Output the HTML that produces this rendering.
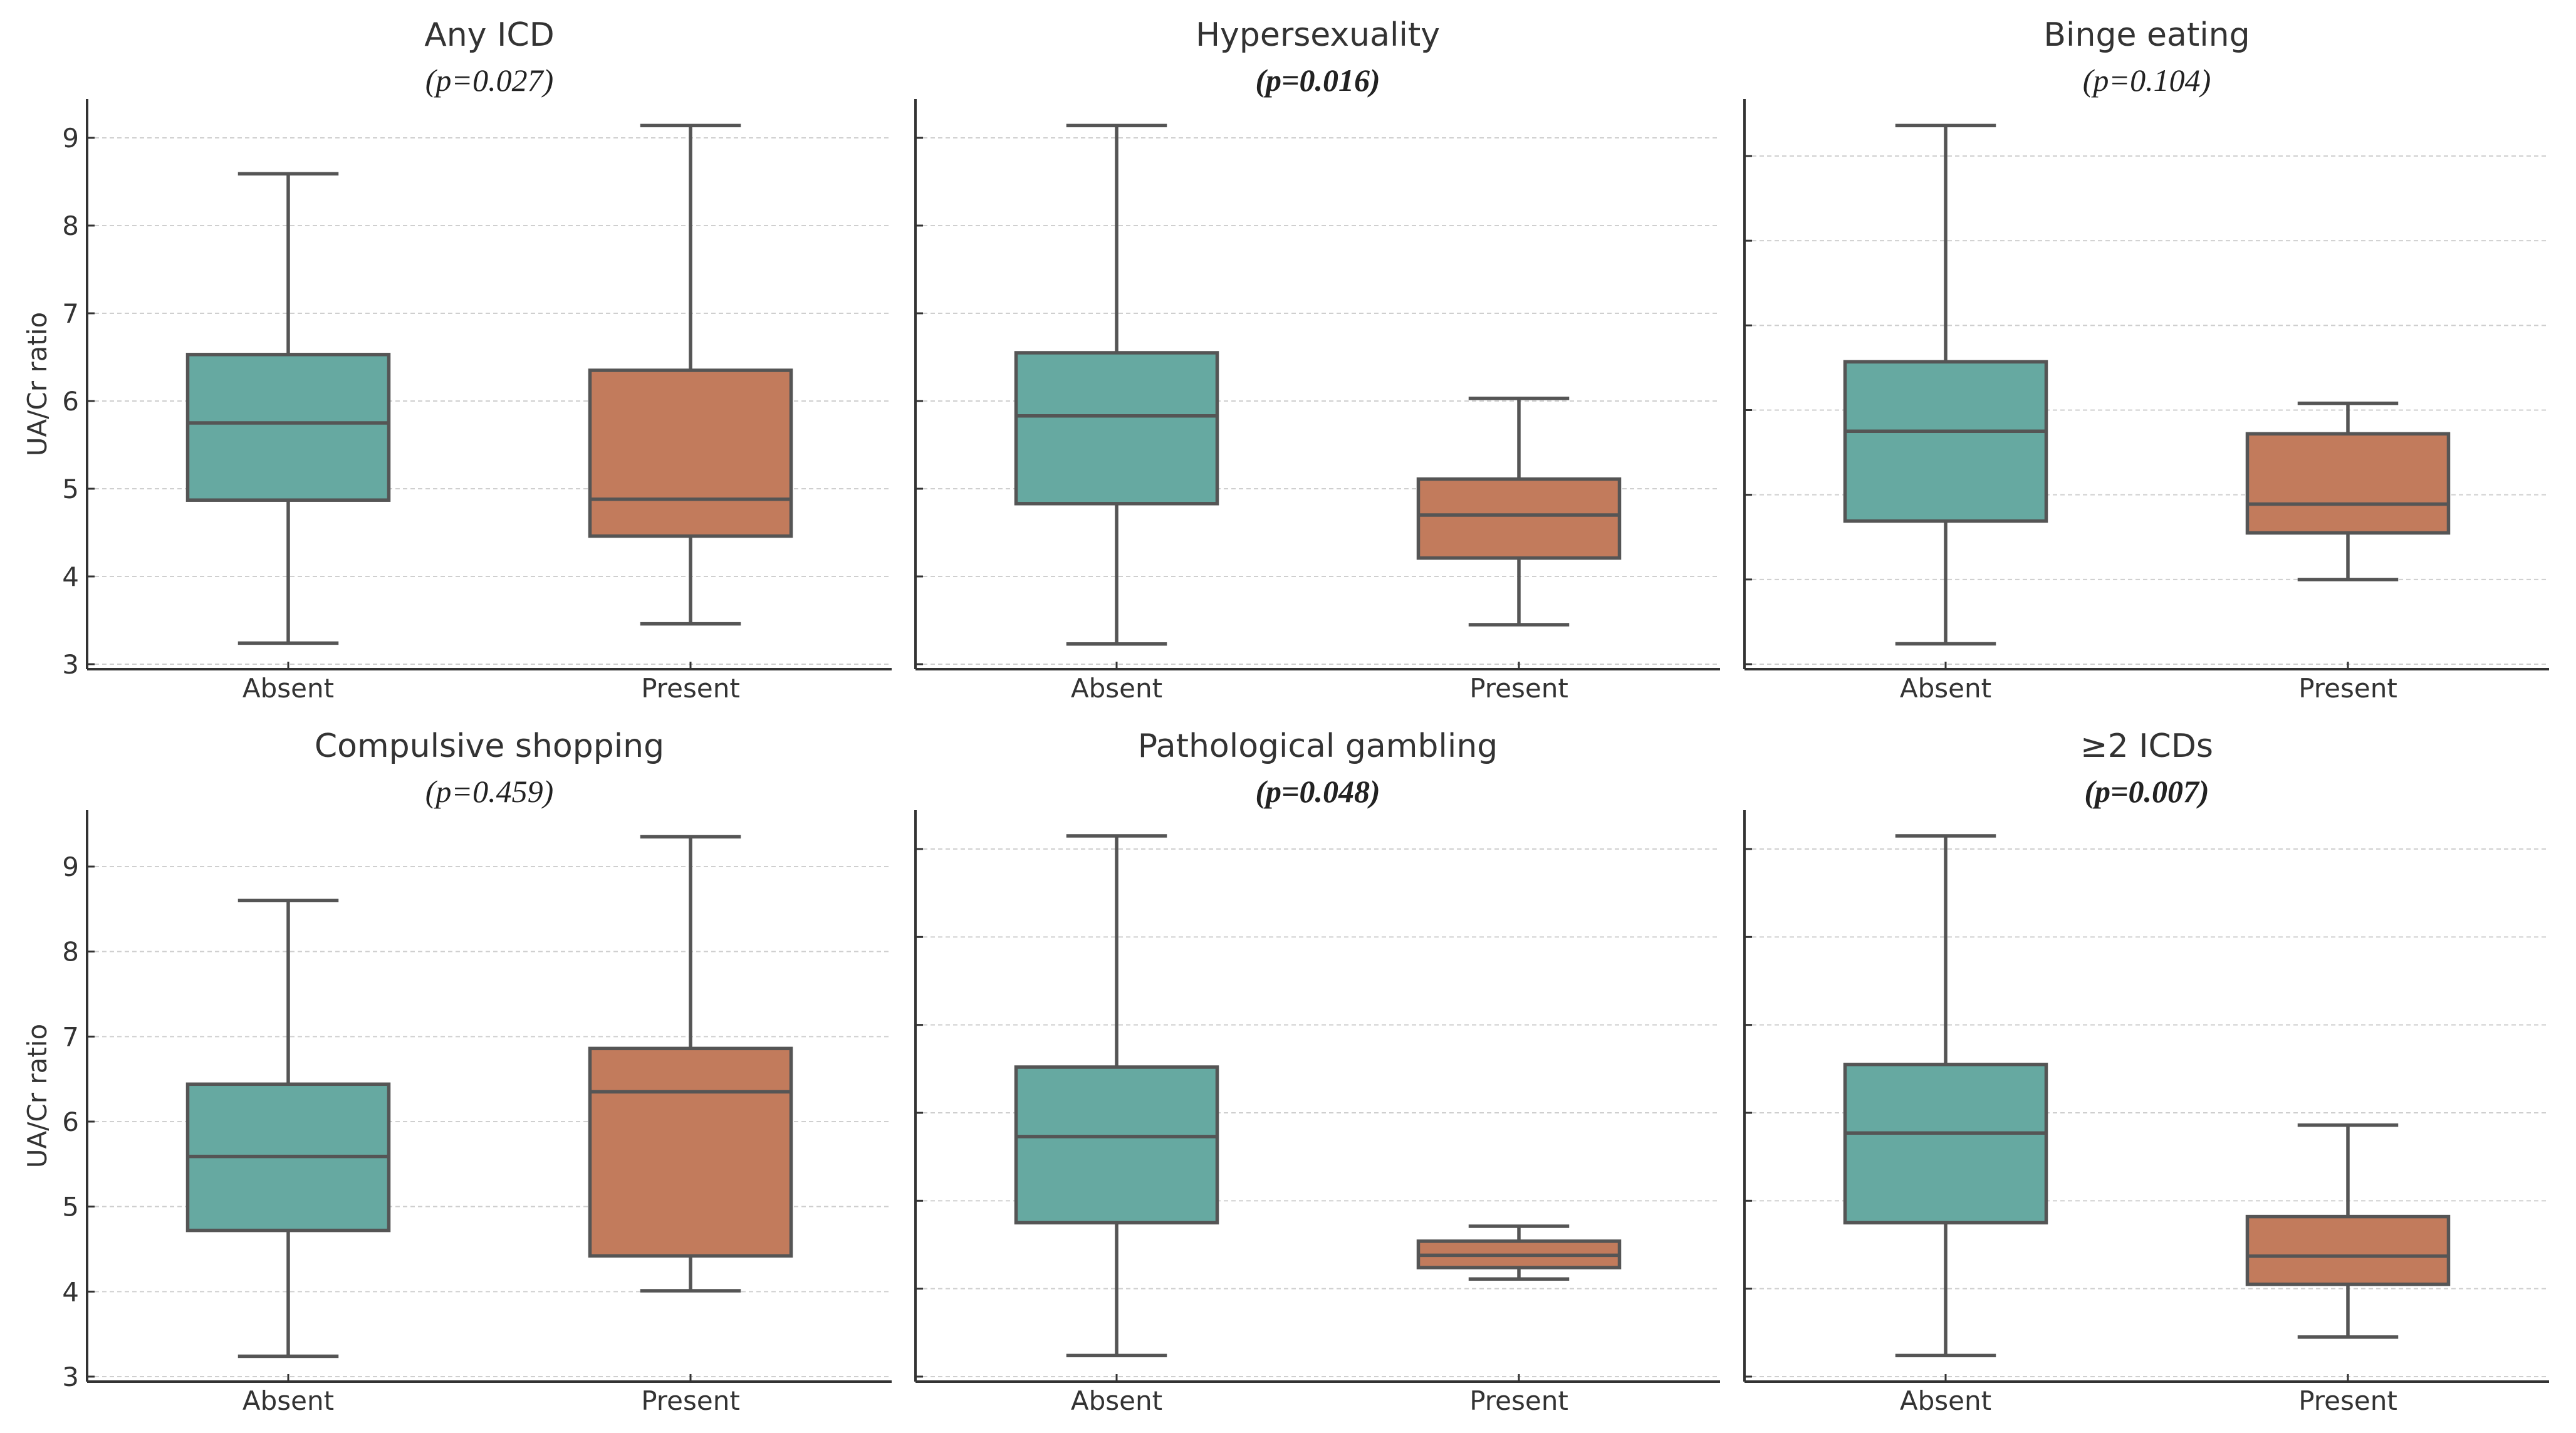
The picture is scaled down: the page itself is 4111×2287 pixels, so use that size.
<!DOCTYPE html>
<html><head><meta charset="utf-8">
<style>
html,body{margin:0;padding:0;background:#fff;}
svg{display:block;}
.t{font-family:"DejaVu Sans","Liberation Sans",sans-serif;fill:#333;}
.p{font-family:"Liberation Serif","DejaVu Serif",serif;font-style:italic;fill:#222;}
</style></head>
<body>
<svg id="chart" width="4111" height="2287" viewBox="0 0 4111 2287" xmlns="http://www.w3.org/2000/svg"></svg>
<script>
const panelTitles = ["Any ICD","Hypersexuality","Binge eating","Compulsive shopping","Pathological gambling","\u22652 ICDs"];
const panelPValues = ["0.027","0.016","0.104","0.459","0.048","0.007"];
const panelSignificant = [false,true,false,false,true,true];
const categories = ["Absent","Present"];
const yTicks = [3,4,5,6,7,8,9];
// [lowerWhisker, q1, median, q3, upperWhisker] per panel, per category
const absentStats = [
  [3.24,4.87,5.75,6.53,8.59],
  [3.23,4.83,5.83,6.55,9.14],
  [3.24,4.69,5.75,6.57,9.36],
  [3.24,4.72,5.59,6.44,8.60],
  [3.24,4.75,5.73,6.52,9.15],
  [3.24,4.75,5.77,6.55,9.15]
];
const presentStats = [
  [3.46,4.46,4.88,6.35,9.14],
  [3.45,4.21,4.70,5.11,6.03],
  [4.00,4.55,4.89,5.72,6.08],
  [4.01,4.42,6.35,6.86,9.35],
  [4.11,4.24,4.38,4.54,4.71],
  [3.45,4.05,4.37,4.82,5.86]
];

const NS="http://www.w3.org/2000/svg";
const svg=document.getElementById('chart');
function mk(tag,attrs,parent){const e=document.createElementNS(NS,tag);for(const k in attrs)e.setAttribute(k,attrs[k]);(parent||svg).appendChild(e);return e;}

const lefts=[139,1461,2784,139,1461,2784];
const W=1284;
const spineTop=[158,158,158,1293,1293,1293];
const axisBottom=[1068,1068,1068,2205,2205,2205];
const y3px=[1060,1060,1060,2197,2197,2197];
const y9px=[220,220,249,1383,1355,1355];
const colors=["#66a9a1","#c27b5c"];
const LW=5.5;

for(let i=0;i<6;i++){
  const g=mk('g',{});
  
  
  const L=lefts[i],R=L+W;
  const yScale=v=>y3px[i]+(v-3)*(y9px[i]-y3px[i])/6;
  const xScale=c=>L+W*(0.25+0.5*c);
  yTicks.forEach(t=>{
    const y=yScale(t);
    const gl=mk('line',{x1:L,x2:R,y1:y,y2:y,stroke:'#cfcfcf','stroke-width':2,'stroke-dasharray':'7,5'},g);
    
    
    mk('line',{x1:L,x2:L+12,y1:y,y2:y,stroke:'#333','stroke-width':3},g);
    if(i===0||i===3){
      const tl=mk('text',{x:126,y:y+15,'text-anchor':'end','font-size':42,class:'t'},g);
      tl.textContent=t;
      
      
    }
  });
  categories.forEach((c,ci)=>{
    const s=(ci===0?absentStats:presentStats)[i];
    const cx=xScale(ci), bw=W*0.25, cw=bw*0.5;
    const bg=mk('g',{},g);
    
    
    mk('line',{x1:cx,x2:cx,y1:yScale(s[0]),y2:yScale(s[1]),stroke:'#555','stroke-width':LW},bg);
    mk('line',{x1:cx,x2:cx,y1:yScale(s[3]),y2:yScale(s[4]),stroke:'#555','stroke-width':LW},bg);
    mk('line',{x1:cx-cw/2,x2:cx+cw/2,y1:yScale(s[0]),y2:yScale(s[0]),stroke:'#555','stroke-width':LW},bg);
    mk('line',{x1:cx-cw/2,x2:cx+cw/2,y1:yScale(s[4]),y2:yScale(s[4]),stroke:'#555','stroke-width':LW},bg);
    mk('rect',{x:cx-bw/2,y:yScale(s[3]),width:bw,height:yScale(s[1])-yScale(s[3]),fill:colors[ci],stroke:'#555','stroke-width':LW},bg);
    mk('line',{x1:cx-bw/2,x2:cx+bw/2,y1:yScale(s[2]),y2:yScale(s[2]),stroke:'#555','stroke-width':LW},bg);
    mk('line',{x1:cx,x2:cx,y1:axisBottom[i]-12,y2:axisBottom[i],stroke:'#333','stroke-width':3},g);
    const xl=mk('text',{x:cx,y:axisBottom[i]+45,'text-anchor':'middle','font-size':42,class:'t'},g);
    xl.textContent=c;
    
    
  });
  mk('line',{x1:L,x2:L,y1:spineTop[i],y2:axisBottom[i],stroke:'#333','stroke-width':4},g);
  mk('line',{x1:L,x2:R,y1:axisBottom[i],y2:axisBottom[i],stroke:'#333','stroke-width':4},g);
  const top=spineTop[i];
  const tt=mk('text',{x:L+W/2,y:top-85,'text-anchor':'middle','font-size':52,class:'t'},g);
  tt.textContent=panelTitles[i];
  
  
  const pt=mk('text',{x:L+W/2,y:top-13,'text-anchor':'middle','font-size':50,class:'p','font-weight':panelSignificant[i]?'bold':'normal'},g);
  pt.textContent='(p='+panelPValues[i]+')';
  
  
  if(i===0||i===3){
    const cy=(spineTop[i]+axisBottom[i])/2;
    const yl=mk('text',{x:74,y:cy,'text-anchor':'middle','font-size':42,class:'t',transform:'rotate(-90 74 '+cy+')'},g);
    yl.textContent='UA/Cr ratio';
    
    
  }
}
</script>
</body></html>
